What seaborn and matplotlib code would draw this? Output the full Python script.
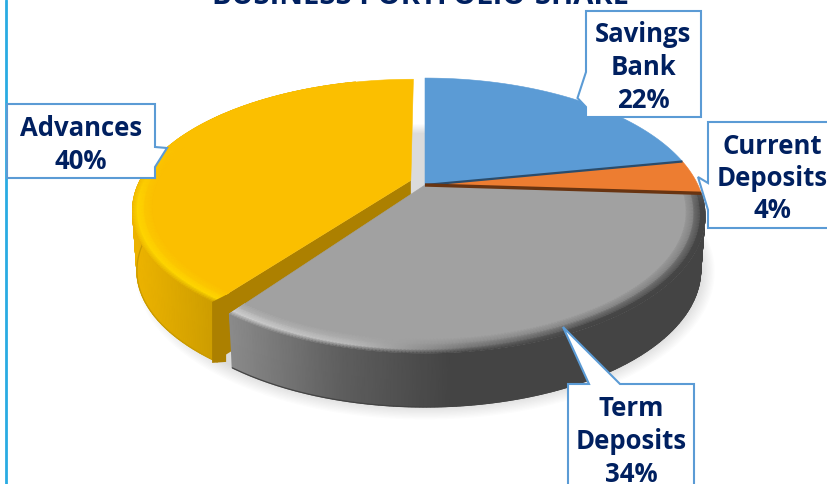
import numpy as np
import seaborn as sns
import matplotlib
matplotlib.use("Agg")
import matplotlib.pyplot as plt
from matplotlib.colors import to_rgb

# chart data, clockwise from 12 o'clock
categories = ["Savings\nBank", "Current\nDeposits", "Term\nDeposits", "Advances"]
shares = [22, 4, 34, 40]
title = "BUSINESS PORTFOLIO-SHARE"
top_colors = ["#5B9BD5", "#ED7D31", "#A1A1A1", "#FBBF00"]

navy = "#002060"
box_edge = "#5B9BD5"

sns.set_theme(style="white")
plt.rcParams["font.family"] = ["Open Sans", "DejaVu Sans"]

fig = plt.figure(figsize=(8.27, 4.84), dpi=100)
ax = fig.add_axes([0, 0, 1, 1])

# perspective of the pie plate (pixel space)
cx, cy = 425, 185
A, B, K = 273, 130.7, 0.222
depth = 54


def project(u, v, sx=1.0, sy=1.0, down=0):
    w = 1 + K * v
    return cx + sx * A * u / w, cy - sy * B * v / w + down


def outline(t0, t1, off=(0, 0), r=1.0, n=200):
    th = np.radians(np.linspace(t0, t1, n))
    return r * np.sin(th) + off[0], r * np.cos(th) + off[1]


def top_face(t0, t1, off, color, sy=1.0):
    u, v = outline(t0, t1, off)
    x, y = project(np.r_[off[0], u], np.r_[off[1], v], sy=sy)
    ax.fill(x, y, color=color, lw=0.4, zorder=3)


def rgb_of(cmap, x, x0, x1):
    return np.array(cmap(np.clip((x - x0) / (x1 - x0), 0, 1)))[..., :3]


def side_wall(t0, t1, off, cmap, x0, x1, sy=1.0, drop=depth):
    u, v = outline(t0, t1, off)
    xt, yt = project(u, v, sy=sy)
    xb, yb = project(u, v, sx=0.985, sy=sy, down=drop)
    X = np.vstack([xt, xb])
    Y = np.vstack([yt, yb])
    ax.pcolormesh(X, Y, rgb_of(cmap, X, x0, x1), shading="gouraud", zorder=2)
    ax.plot(xb, yb, color=cmap(1.0), lw=0.9, zorder=2)


def bevel(t0, t1, off, base, rim_cmap, side_cmap, x0, x1, sy=1.0):
    rows_x, rows_y, rows_c = [], [], []
    th = np.radians(np.linspace(t0, t1, 200))
    base = np.array(to_rgb(base))
    for r in [0.935, 0.962, 0.985, 1.0]:
        u, v = r * np.sin(th) + off[0], r * np.cos(th) + off[1]
        x, y = project(u, v, sy=sy)
        fade = np.clip((0.35 - v) / 0.5, 0, 1)[:, None]
        if r == 0.935:
            c = np.tile(base, (len(th), 1))
        elif r == 0.962:
            c = base + 0.45 * fade * (rgb_of(rim_cmap, x, x0, x1) - base)
        elif r == 0.985:
            c = base + fade * (rgb_of(rim_cmap, x, x0, x1) - base)
        else:
            c = base + fade * (rgb_of(side_cmap, x, x0, x1) - base)
        rows_x.append(x)
        rows_y.append(y)
        rows_c.append(c)
    ax.pcolormesh(np.array(rows_x), np.array(rows_y), np.array(rows_c),
                  shading="gouraud", zorder=3)


# slice angles come from the shares
edges = np.cumsum([0] + shares) * 3.6
mid = np.radians((edges[3] + edges[4]) / 2)
explode = 0.055
yellow_off = (explode * np.sin(mid), explode * np.cos(mid) + 0.02)
yellow_sy = 0.96
yellow_drop = 60
no_off = (0, 0)

gray_side = sns.blend_palette(["#8A8A8A", "#5E5E5E", "#444444", "#444444"], as_cmap=True)
gray_rim = sns.blend_palette(["#D2D2D2", "#BDBDBD", "#6E6E6E", "#474747"], as_cmap=True)
gold_side = sns.blend_palette(["#EDB400", "#C99A00"], as_cmap=True)
gold_rim = sns.blend_palette(["#FFD800", "#FFD800"], as_cmap=True)

# soft shadow under the plate
th = np.radians(np.linspace(0, 360, 300))
for sx, sy in zip(np.linspace(0.985, 1.035, 12), np.linspace(0.99, 1.075, 12)):
    x, y = project(np.sin(th), np.cos(th), sx=sx, sy=sy, down=depth)
    ax.fill(x, y, color="black", alpha=0.011, lw=0, zorder=1)

# Advances: wall of the cut face, outer wall, top
xc, yc = project(yellow_off[0] + np.sin(np.radians(edges[3])),
                 yellow_off[1] + np.cos(np.radians(edges[3])), sy=yellow_sy)
xa, ya = project(*yellow_off, sy=yellow_sy)
ax.fill([xa, xc, xc, xa], [ya, yc, yc + yellow_drop, ya + yellow_drop], color="#AC8000", lw=0, zorder=2)
side_wall(edges[3], 345, yellow_off, gold_side, 135, 225, sy=yellow_sy, drop=yellow_drop)
top_face(edges[3], edges[4], yellow_off, top_colors[3], sy=yellow_sy)
bevel(edges[3], 345, yellow_off, top_colors[3], gold_rim, gold_side, 135, 225, sy=yellow_sy)
ax.fill([xc - 2, xc + 12, xc + 12, xc - 2], [yc, yc - 7, yc + yellow_drop, yc + yellow_drop + 1],
        color="#AC8000", lw=0, zorder=3)

# Term Deposits
side_wall(edges[2], edges[3], no_off, gray_side, 232, 560)
ax.collections[-1].set_zorder(4)
ax.lines[-1].set_zorder(4)
top_face(edges[2], edges[3], no_off, top_colors[2])
ax.patches[-1].set_zorder(5)
bevel(edges[2], edges[3], no_off, top_colors[2], gray_rim, gray_side, 232, 590)
ax.collections[-1].set_zorder(5)

# back slices
for i in [0, 1]:
    top_face(edges[i], edges[i + 1], no_off, top_colors[i])
    ax.patches[-1].set_zorder(6)

# dark seams between slices
for ang, col, lw in [(edges[1], "#2B4C6B", 1.6), (edges[2], "#693411", 2.4)]:
    x, y = project(np.array([0, np.sin(np.radians(ang))]), np.array([0, np.cos(np.radians(ang))]))
    ax.plot(x, y, color=col, lw=lw, solid_capstyle="butt", zorder=7)

# left frame line of the slide
ax.plot([6, 6], [0, 484], color="#29ABE2", lw=2, zorder=8)

# callouts
boxes = [
    [(586, 11), (701, 11), (701, 117), (586, 117), (586, 107), (577.5, 98), (586, 72)],
    [(708, 122), (835, 122), (835, 228), (708, 228), (708, 210), (698, 177), (708, 183)],
    [(568, 384), (589, 384), (563, 327), (620, 384), (694, 384), (694, 500), (568, 500)],
    [(7, 104), (155, 104), (155, 147), (167, 148), (155, 167), (155, 178), (7, 178)],
]
label_pos = [(643.5, 35), (772, 146), (631, 409), (81, 129)]
for pts, cat, share, (lx, ly) in zip(boxes, categories, shares, label_pos):
    px, py = zip(*pts)
    ax.fill(px, py, facecolor="white", edgecolor=box_edge, lw=1.5, zorder=9)
    lines = cat.split("\n") + [f"{share}%"]
    for k, line in enumerate(lines):
        ax.text(lx, ly + k * 32.5, line, ha="center", va="center", color=navy,
                fontsize=18.5, fontweight="bold", zorder=10)

ax.text(420, 4, title, ha="center", va="baseline", color=navy, fontsize=21,
        fontweight="bold", zorder=10)

ax.set_xlim(0, 827)
ax.set_ylim(484, 0)
ax.axis("off")

fig.savefig("out.png", dpi=100, facecolor="white")
